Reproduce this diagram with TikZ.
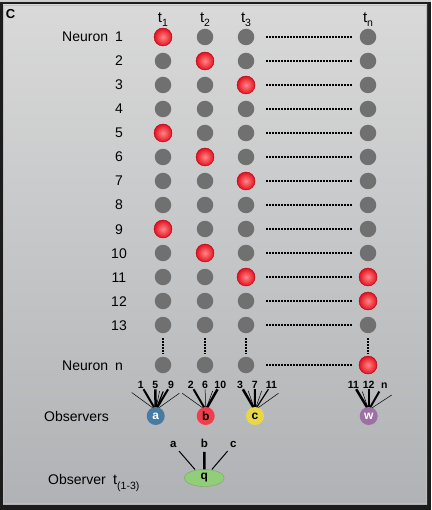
\documentclass[tikz,border=0pt]{standalone}
\usepackage{fontspec}
\setmainfont{Liberation Sans}
\usetikzlibrary{shapes.geometric}
\definecolor{framedark}{RGB}{28,28,28}
\definecolor{topstrip}{RGB}{205,205,205}
\definecolor{bgtop}{RGB}{217,217,217}
\definecolor{bgbot}{RGB}{176,178,181}
\definecolor{innerhl}{RGB}{190,190,190}
\definecolor{dotgray}{RGB}{112,112,112}
\definecolor{redin}{RGB}{255,135,135}
\definecolor{redout}{RGB}{228,15,30}
\definecolor{redrim}{RGB}{175,0,15}
\definecolor{obsa}{RGB}{72,122,162}
\definecolor{obsb}{RGB}{240,62,76}
\definecolor{obsc}{RGB}{232,216,72}
\definecolor{obsw}{RGB}{156,112,162}
\definecolor{qgreen}{RGB}{146,206,122}
\definecolor{qrim}{RGB}{112,170,92}
\pgfdeclarelayer{bg}
\pgfdeclarelayer{lines}
\pgfsetlayers{bg,lines,main}
\begin{document}
\begin{tikzpicture}[x=1pt,y=-1pt,
  lbl/.style={font=\fontsize{14}{15}\selectfont, inner sep=0pt},
  sg/.style={circle, fill=dotgray, minimum size=16.5pt, inner sep=0pt},
  sr/.style={circle, minimum size=18pt, inner sep=0pt, inner color=redin, outer color=redout, draw=redrim, line width=0.4pt},
  hdots/.style={line width=2.3pt, dash pattern=on 1.7pt off 1.3pt, shorten <=20pt, shorten >=16pt},
  vdots/.style={line width=2.3pt, dash pattern=on 1.7pt off 1.3pt, shorten <=13pt, shorten >=11pt},
  obs/.style={circle, minimum size=18pt, inner sep=0pt, font=\bfseries\fontsize{12}{12}\selectfont},
  num/.style={font=\bfseries\fontsize{10.5}{11}\selectfont, inner sep=1pt, anchor=base},
  qlbl/.style={font=\bfseries\fontsize{11.5}{12}\selectfont, inner sep=1pt, anchor=base},
  thin/.style={line width=0.5pt},
  med/.style={line width=1.2pt},
  thick/.style={line width=2pt},
  vthick/.style={line width=2.5pt}]
\useasboundingbox (0,0) rectangle (431,510);
\begin{pgfonlayer}{bg}
\fill[framedark] (0,0) rectangle (431,510);
\fill[topstrip] (0,0) rectangle (431,1.8);
\shade[top color=bgtop, bottom color=bgbot] (3,5) rectangle (427,504);
\draw[innerhl, line width=0.7pt] (3.35,5.35) rectangle (426.65,503.65);
\end{pgfonlayer}

\node[font=\bfseries\fontsize{13}{13}\selectfont, inner sep=0pt] (C) at (10.5,14.5) {C};

% time labels
\node[inner sep=0pt, anchor=base] (t1) at (163,22.5) {\fontsize{15}{15}\selectfont t\raisebox{-3.6pt}{\fontsize{10.5}{10.5}\selectfont 1}};
\node[inner sep=0pt, anchor=base] (t2) at (205,22.5) {\fontsize{15}{15}\selectfont t\raisebox{-3.6pt}{\fontsize{10.5}{10.5}\selectfont 2}};
\node[inner sep=0pt, anchor=base] (t3) at (246,22.5) {\fontsize{15}{15}\selectfont t\raisebox{-3.6pt}{\fontsize{10.5}{10.5}\selectfont 3}};
\node[inner sep=0pt, anchor=base] (tn) at (368,22.5) {\fontsize{15}{15}\selectfont t\raisebox{-3.6pt}{\fontsize{10.5}{10.5}\selectfont n}};

% neuron labels
\node[lbl, anchor=base west] (neur1) at (62,42) {Neuron};
\node[lbl, anchor=base west] (neurn) at (62,370) {Neuron};

\foreach \r/\y/\a/\b/\c/\d in {1/37/r/g/g/g, 2/61/g/r/g/g, 3/85/g/g/r/g, 4/109/g/g/g/g,
  5/133/r/g/g/g, 6/157/g/r/g/g, 7/181/g/g/r/g, 8/205/g/g/g/g, 9/229/r/g/g/g,
  10/253/g/r/g/g, 11/277/g/g/r/r, 12/301/g/g/g/r, 13/325/g/g/g/g, n/365/g/g/g/r}{
  \node[lbl, anchor=base] (lab\r) at (119,\y+5) {\r};
  \node[s\a] (n\r-1) at (163,\y) {};
  \node[s\b] (n\r-2) at (205,\y) {};
  \node[s\c] (n\r-3) at (246,\y) {};
  \node[s\d] (n\r-4) at (368,\y) {};
  \draw[hdots] (n\r-3.center) -- (n\r-4.center);
}
\foreach \c in {1,...,4}{
  \draw[vdots] (n13-\c.center) -- (nn-\c.center);
}

% observers
\node[lbl, anchor=base west] (observers) at (44,421) {Observers};
\node[obs, fill=obsa, text=white] (oa) at (155.7,416) {a};
\node[obs, fill=obsb, text=black] (ob) at (205.7,416) {b};
\node[obs, fill=obsc, text=black] (oc) at (255,416) {c};
\node[obs, fill=obsw, text=white] (ow) at (368.7,416) {w};

\coordinate (ca) at (155.7,410);
\coordinate (cb) at (205.7,410);
\coordinate (cc) at (255,410);
\coordinate (cw) at (368.7,410);

\node[num] (a1) at (140.7,388) {1};
\node[num] (a5) at (155.2,388) {5};
\node[num] (a9) at (171,388) {9};
\node[num] (b2) at (190.7,388) {2};
\node[num] (b6) at (205,388) {6};
\node[num] (b10) at (220.3,388) {10};
\node[num] (c3) at (240,388) {3};
\node[num] (c7) at (254.8,388) {7};
\node[num] (c11) at (271.5,388) {11};
\node[num] (w11) at (353.3,388) {11};
\node[num] (w12) at (368.7,388) {12};
\node[num] (wn) at (384.3,388) {n};

\coordinate (fa1) at (131.7,392.5);
\coordinate (fa2) at (159.6,391);
\coordinate (fa3) at (163.2,391.5);
\coordinate (fa4) at (179.3,393.3);
\coordinate (fb1) at (182.3,393.3);
\coordinate (fb2) at (212.6,391);
\coordinate (fc1) at (248.2,391);
\coordinate (fc2) at (261.6,391);
\coordinate (fc3) at (278.4,393.3);
\coordinate (fw1) at (362.3,391.5);
\coordinate (fw2) at (379.3,391.5);
\coordinate (fw3) at (391.7,395);

\begin{pgfonlayer}{lines}
\draw[thin] (fa1) -- (ca);
\draw[thick] (a1) -- (ca);
\draw[vthick] (a5) -- (ca);
\draw[thin] (fa2) -- (ca);
\draw[med] (fa3) -- (ca);
\draw[thick] (a9) -- (ca);
\draw[thin] (fa4) -- (ca);

\draw[thin] (fb1) -- (cb);
\draw[thick] (b2) -- (cb);
\draw[thin] (b6) -- (cb);
\draw[thin] (fb2) -- (cb);
\draw[vthick] (b10) -- (cb);

\draw[vthick] (c3) -- (cc);
\draw[thin] (fc1) -- (cc);
\draw[thick] (c7) -- (cc);
\draw[thin] (fc2) -- (cc);
\draw[med] (c11) -- (cc);
\draw[thin] (fc3) -- (cc);

\draw[vthick] (w11) -- (cw);
\draw[thin] (fw1) -- (cw);
\draw[thick] (w12) -- (cw);
\draw[thick] (fw2) -- (cw);
\draw[thin] (fw3) -- (cw);
\end{pgfonlayer}

% second-level observer
\node[lbl, anchor=base west] (observer) at (48,484) {Observer};
\node[inner sep=0pt, anchor=base west] (tq) at (113,484) {\fontsize{14.5}{15}\selectfont t\raisebox{-5pt}{\fontsize{10.5}{10.5}\selectfont (1-3)}};
\node[ellipse, fill=qgreen, draw=qrim, line width=0.4pt, minimum width=40pt, minimum height=17pt, inner sep=0pt, font=\bfseries\fontsize{12}{12}\selectfont] (q) at (204.2,478) {q};
\node[qlbl] (la) at (173.3,447.5) {a};
\node[qlbl] (lb) at (204.5,447.5) {b};
\node[qlbl] (lc) at (233.3,447.5) {c};
\coordinate (qa) at (195,469.5);
\coordinate (qc) at (211.8,469.5);
\draw[line width=1pt, shorten <=3pt] (la) -- (qa);
\draw[line width=2.5pt, shorten <=3pt] (lb) -- (q);
\draw[line width=1pt, shorten <=3pt] (lc) -- (qc);
\end{tikzpicture}
\end{document}
